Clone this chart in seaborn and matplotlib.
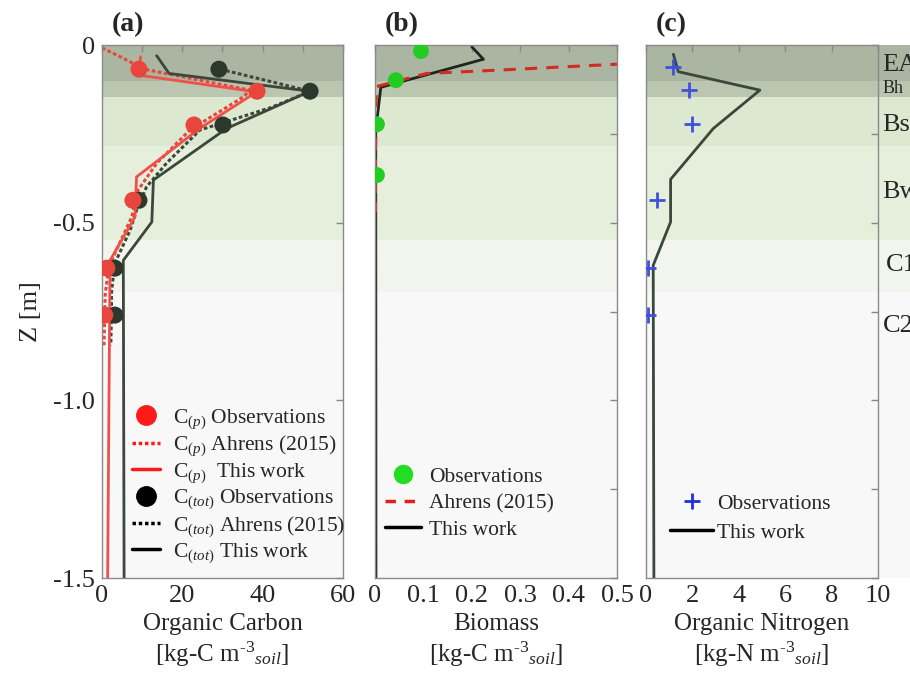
import numpy as np
import pandas as pd
import matplotlib.pyplot as plt
import matplotlib.patches as mpatches
from matplotlib.lines import Line2D
from matplotlib.ticker import MultipleLocator
import seaborn as sns

sns.set_theme(style="white")
plt.rcParams["font.family"] = ["Liberation Serif", "DejaVu Serif"]
plt.rcParams["mathtext.fontset"] = "custom"
plt.rcParams["mathtext.rm"] = "Liberation Serif"
plt.rcParams["mathtext.it"] = "Liberation Serif:italic"
plt.rcParams["axes.unicode_minus"] = False

# soil horizons (top, bottom, colour)
horizons = ["EA", "Bh", "Bs", "Bw", "C1", "C2"]
hz_top = [0.0, -0.10, -0.145, -0.285, -0.55, -0.695]
hz_bot = [-0.10, -0.145, -0.285, -0.55, -0.695, -1.5]
hz_col = ["#aab6a2", "#bac6b0", "#dde8d1", "#e6efdc", "#f1f5ee", "#f8f8f8"]

# panel (a) organic carbon
obs_z = [-0.068, -0.13, -0.225, -0.437, -0.628, -0.76]
cp_obs = [9.2, 38.6, 22.9, 7.7, 1.2, 0.7]
ctot_obs = [29.1, 51.8, 30.1, 9.2, 3.2, 3.2]

cp_work_x = [9.6, 9.3, 38.5, 24.4, 8.6, 8.2, 2.0, 1.4]
cp_work_z = [-0.033, -0.085, -0.132, -0.234, -0.371, -0.484, -0.606, -1.5]
ctot_work_x = [13.6, 16.7, 51.8, 31.0, 12.8, 12.4, 5.3, 5.5]
ctot_work_z = [-0.030, -0.080, -0.130, -0.235, -0.380, -0.498, -0.606, -1.5]

cp_ahr_x = [0.0, 4.0, 7.8, 10.5, 36.8, 35.2, 21.9, 13.6, 9.0, 7.4, 2.8, 1.6, 0.8, 0.5]
cp_ahr_z = [-0.008, -0.030, -0.052, -0.068, -0.127, -0.146, -0.239, -0.333, -0.408,
            -0.484, -0.596, -0.634, -0.70, -0.845]
ctot_ahr_x = [29.4, 51.8, 48.5, 41.8, 24.4, 16.1, 11.1, 8.6, 7.0, 3.2, 2.4, 2.2]
ctot_ahr_z = [-0.068, -0.13, -0.146, -0.177, -0.239, -0.332, -0.399, -0.465,
              -0.521, -0.614, -0.69, -0.845]

# panel (b) biomass
bio_obs_x = [0.095, 0.043, 0.004, 0.004]
bio_obs_z = [-0.017, -0.099, -0.223, -0.366]
bio_work_x = [0.200, 0.224, 0.012, 0.0015, 0.002]
bio_work_z = [-0.005, -0.040, -0.119, -0.240, -1.5]
bio_ahr_x = [0.60, 0.50, 0.265, 0.107, 0.09, 0.003, 0.001, 0.001]
bio_ahr_z = [-0.050, -0.054, -0.070, -0.080, -0.086, -0.117, -0.30, -0.47]

# panel (c) organic nitrogen
n_obs_x = [1.16, 1.85, 1.98, 0.47, 0.09, 0.09]
n_obs_z = [-0.062, -0.127, -0.223, -0.437, -0.628, -0.76]
n_work_x = [1.18, 1.39, 4.91, 2.9, 1.06, 1.06, 0.31, 0.34]
n_work_z = [-0.026, -0.075, -0.127, -0.235, -0.378, -0.498, -0.62, -1.5]

red = "#e8453c"
dark = "#3a473a"
fs = 18

fig = plt.figure(figsize=(9.1, 6.74), dpi=100)
ax_a = fig.add_axes([0.1121, 0.1424, 0.2648, 0.7908])
ax_b = fig.add_axes([0.4121, 0.1424, 0.2659, 0.7908])
ax_c = fig.add_axes([0.7099, 0.1424, 0.2549, 0.7908])
axes = [ax_a, ax_b, ax_c]

for ax in axes:
    for t, b, c in zip(hz_top, hz_bot, hz_col):
        ax.axhspan(b, t, color=c, lw=0, zorder=0)

# horizon shading continues right of panel (c)
for t, b, c in zip(hz_top, hz_bot, hz_col):
    y0 = 0.1424 + 0.7908 * (1.5 + b) / 1.5
    h = 0.7908 * (t - b) / 1.5
    fig.patches.append(mpatches.Rectangle((0.9648, y0), 0.04, h, transform=fig.transFigure,
                                          color=c, lw=0, zorder=-1))

def prof(ax, x, z, **kw):
    df = pd.DataFrame({"x": x, "z": z})
    sns.lineplot(data=df, x="x", y="z", sort=False, estimator=None, ax=ax, **kw)

# (a)
prof(ax_a, ctot_ahr_x, ctot_ahr_z, color=dark, lw=2.2, linestyle=(0, (1.2, 0.8)))
prof(ax_a, cp_ahr_x, cp_ahr_z, color=red, lw=2.2, linestyle=(0, (1.2, 0.8)))
prof(ax_a, ctot_work_x, ctot_work_z, color=dark, lw=2)
prof(ax_a, cp_work_x, cp_work_z, color="#f0504a", lw=2)
sns.scatterplot(x=ctot_obs, y=obs_z, color="#2b382b", s=150, edgecolor="none", ax=ax_a, zorder=5)
sns.scatterplot(x=cp_obs, y=obs_z, color=red, s=150, edgecolor="none", ax=ax_a, zorder=6)

# (b)
prof(ax_b, bio_work_x, bio_work_z, color="#1e261e", lw=2)
prof(ax_b, bio_ahr_x, bio_ahr_z, color="#d42a20", lw=2.2, linestyle=(0, (4, 3)))
sns.scatterplot(x=bio_obs_x, y=bio_obs_z, color="#22cc22", s=130, edgecolor="none", ax=ax_b, zorder=5)

# (c)
prof(ax_c, n_work_x, n_work_z, color=dark, lw=2)
sns.scatterplot(x=n_obs_x, y=n_obs_z, color="#4050dd", marker="+", s=120, linewidth=2, ax=ax_c, zorder=5)

limits = [(0, 60), (0, 0.5), (0, 10)]
xticks = [[0, 20, 40, 60], [0, 0.1, 0.2, 0.3, 0.4, 0.5], [0, 2, 4, 6, 8, 10]]
xtlabels = [["0", "20", "40", "60"], ["0", "0.1", "0.2", "0.3", "0.4", "0.5"],
            ["0", "2", "4", "6", "8", "10"]]
xlabels = ["Organic Carbon\n[kg-C m$^{\u20103}$$_{soil}$]",
           "Biomass\n[kg-C m$^{\u20103}$$_{soil}$]",
           "Organic Nitrogen\n[kg-N m$^{\u20103}$$_{soil}$]"]
titles = ["(a)", "(b)", "(c)"]

for ax, lim, xt, xtl, xl, ttl in zip(axes, limits, xticks, xtlabels, xlabels, titles):
    ax.set_xlim(lim)
    ax.set_ylim(-1.5, 0)
    ax.set_xticks(xt)
    ax.set_xticklabels(xtl, fontsize=fs + 1)
    ax.set_xlabel(xl, fontsize=fs, linespacing=1.25)
    ax.set_ylabel("")
    ax.tick_params(direction="in", top=True, right=True, length=5, color="#888888",
                   width=1, pad=5)
    ax.tick_params(which="minor", direction="in", top=True, right=True, length=5,
                   color="#888888")
    for sp in ax.spines.values():
        sp.set_color("#8a8a8a")
        sp.set_linewidth(1)
    ax.text(0.04, 1.015, ttl, transform=ax.transAxes, fontsize=fs + 2, fontweight="bold",
            va="bottom", ha="left")
    ax.grid(False)

ax_a.xaxis.set_minor_locator(MultipleLocator(10))
ax_a.set_yticks([0, -0.5, -1.0, -1.5])
ax_a.set_yticklabels(["0", "-0.5", "-1.0", "-1.5"], fontsize=fs + 1)
ax_a.set_ylabel("Z [m]", fontsize=fs + 1, labelpad=8)
for ax in (ax_b, ax_c):
    ax.set_yticks([0, -0.5, -1.0, -1.5])
    ax.yaxis.set_minor_locator(MultipleLocator(0.25))
    ax.set_yticklabels([])

# horizon names at right (cut by the figure edge, as in the original)
hz_size = [19, 13, 19, 19, 19, 19]
hz_ypos = [-0.057, -0.122, -0.225, -0.415, -0.62, -0.79]
hz_x = [1.02, 1.02, 1.02, 1.02, 1.035, 1.02]
for name, zc, sz, xx in zip(horizons, hz_ypos, hz_size, hz_x):
    ax_c.text(xx, zc, name, transform=ax_c.get_yaxis_transform(), fontsize=sz,
              va="center", ha="left", clip_on=False, zorder=10)

# legends
leg_a = [
    Line2D([], [], color="#ff1a1a", marker="o", ms=14, lw=0),
    Line2D([], [], color="#ff1a1a", lw=2.5, linestyle=(0, (1, 0.8))),
    Line2D([], [], color="#ff1a1a", lw=2.5),
    Line2D([], [], color="black", marker="o", ms=14, lw=0),
    Line2D([], [], color="black", lw=2.5, linestyle=(0, (1, 0.8))),
    Line2D([], [], color="black", lw=2.5),
]
lab_a = ["C$_{(p)}$ Observations", "C$_{(p)}$ Ahrens (2015)", "C$_{(p)}$  This work",
         "C$_{(tot)}$ Observations", "C$_{(tot)}$ Ahrens (2015)", "C$_{(tot)}$ This work"]
ax_a.legend(leg_a, lab_a, loc="lower left", bbox_to_anchor=(0.07, 0.0), frameon=False,
            fontsize=15.5, handlelength=1.3, handletextpad=0.6, labelspacing=0.12,
            borderaxespad=0.2)

leg_b = [
    Line2D([], [], color="#22dd22", marker="o", ms=13, lw=0),
    Line2D([], [], color="#e02020", lw=2.5, linestyle=(0, (3, 2.5))),
    Line2D([], [], color="black", lw=2.5),
]
ax_b.legend(leg_b, ["Observations", "Ahrens (2015)", "This work"], loc="lower left",
            bbox_to_anchor=(-0.04, 0.035), frameon=False, fontsize=15.5, handlelength=1.7,
            handletextpad=0.35, labelspacing=0.3)

leg_c = [
    Line2D([], [], color="#2030dd", marker="+", ms=12, mew=2, lw=0),
    Line2D([], [], color="black", lw=2.5),
]
ax_c.legend(leg_c, ["Observations", "This work"], loc="lower left",
            bbox_to_anchor=(0.02, 0.03), frameon=False, fontsize=15.5, handlelength=2.0,
            handletextpad=0.2, labelspacing=0.4)

fig.savefig("out.png", dpi=100)
